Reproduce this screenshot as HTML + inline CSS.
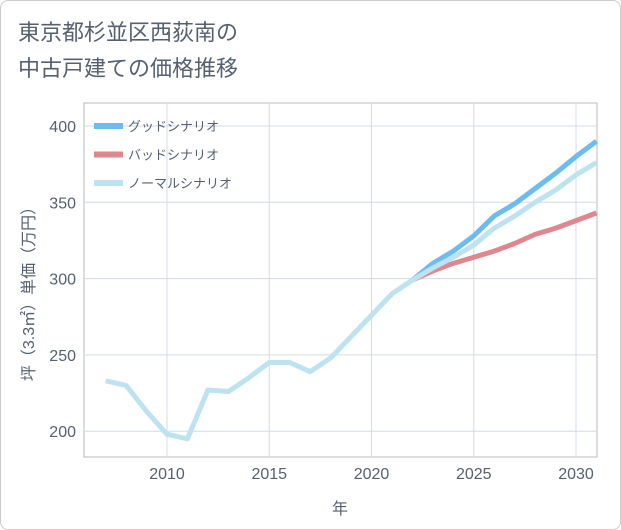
<!DOCTYPE html>
<html><head><meta charset="utf-8"><style>
body{margin:0;background:#fff;font-family:"Liberation Sans","Noto Sans CJK JP",sans-serif;}
#wrap{position:relative;width:619px;height:528px;border:1px solid #ccc;border-radius:8px;overflow:hidden;}
</style></head><body>
<div id="wrap">
<svg id="c" width="621" height="530" style="position:absolute;left:-1px;top:-1px">
<text x="18" y="40" font-size="22" fill="#556170">東京都杉並区西荻南の</text>
<text x="18" y="76" font-size="22" fill="#556170">中古戸建ての価格推移</text>
<rect x="84" y="103" width="513" height="354" fill="#fff" stroke="#bbb"/>
<g id="grid"></g><g id="series"></g><g id="legend"></g>
<text x="340" y="514" font-size="16" fill="#556170" text-anchor="middle">年</text>
<text transform="translate(34,290) rotate(-90)" font-size="16" fill="#556170" text-anchor="middle">坪（3.3㎡）単価（万円）</text>
</svg></div>
<script>
const years=[2007,2008,2009,2010,2011,2012,2013,2014,2015,2016,2017,2018,2019,2020,2021,2022,2023,2024,2025,2026,2027,2028,2029,2030,2031];
const normal=[233,230,213,198,195,227,226,235,245,245,239,248,262,276,290,299,307,314,322,333,341,350,358,368,376];
const futureYears=[2022,2023,2024,2025,2026,2027,2028,2029,2030,2031];
const good=[299,310,318,328,341,349,359,369,380,390];
const bad=[299,305,310,314,318,323,329,333,338,343];
const xTicks=[2010,2015,2020,2025,2030];
const yTicks=[200,250,300,350,400];
const NS='http://www.w3.org/2000/svg';
const X=y=>167+(y-2010)*20.45;
const Y=v=>126+(400-v)*1.526;
function mk(t,a,p){const e=document.createElementNS(NS,t);for(const k in a)e.setAttribute(k,a[k]);p.appendChild(e);return e;}
const g=document.getElementById('grid');
xTicks.forEach(t=>{const l=mk('line',{x1:X(t),x2:X(t),y1:103,y2:457,stroke:'#d0dce8'},g);


const tx=mk('text',{x:X(t),y:479,'font-size':16,fill:'#556170','text-anchor':'middle'},g);tx.textContent=t;

});
yTicks.forEach(t=>{const l=mk('line',{x1:84,x2:597,y1:Y(t),y2:Y(t),stroke:'#d0dce8'},g);


const tx=mk('text',{x:76,y:Y(t)+6,'font-size':16,fill:'#556170','text-anchor':'end'},g);tx.textContent=t;

});
const s=document.getElementById('series');
function line(xs,vs,col,name){const p=mk('polyline',{points:xs.map((y,i)=>X(y)+','+Y(vs[i])).join(' '),fill:'none',stroke:col,'stroke-width':5,'stroke-linejoin':'round'},s);

}
line(futureYears,bad,'#e0868f','bad-scenario-line');
line(futureYears,good,'#6bbcef','good-scenario-line');
line(years,normal,'#bde2f0','normal-scenario-line');
const lg=document.getElementById('legend');
[['グッドシナリオ','#6bbcef'],['バッドシナリオ','#e0868f'],['ノーマルシナリオ','#bde2f0']].forEach((d,i)=>{
const y=126+i*28.5;
const r=mk('rect',{x:94,y:y-3,width:29,height:6,fill:d[1]},lg);


const t=mk('text',{x:128,y:y+5,'font-size':13,fill:'#556170'},lg);t.textContent=d[0];

});
</script></body></html>
